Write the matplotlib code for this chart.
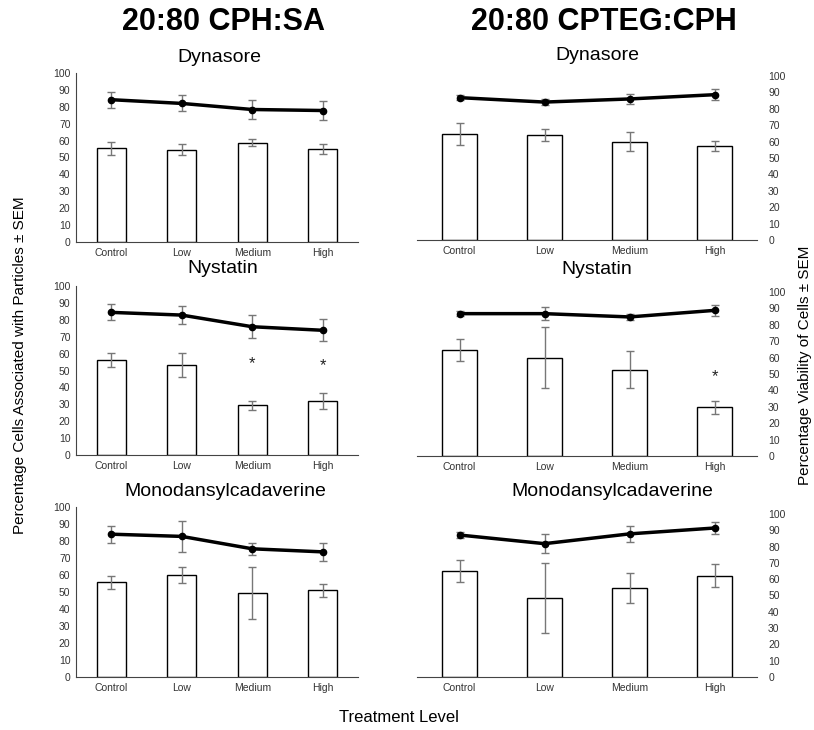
import numpy as np
import matplotlib
matplotlib.use("Agg")
import matplotlib.pyplot as plt

plt.rcParams["font.family"] = ["Liberation Sans", "DejaVu Sans"]

levels = ["Control", "Low", "Medium", "High"]
treatments = ["Dynasore", "Nystatin", "Monodansylcadaverine"]

# 20:80 CPH:SA  (bars = association, line = viability)
sa_bar = [[55.4, 54.7, 58.8, 55.0],
          [56.0, 53.3, 29.4, 32.0],
          [55.7, 59.8, 49.6, 51.0]]
sa_bar_err = [[3.9, 3.5, 2.2, 3.2],
              [4.1, 6.9, 2.7, 4.5],
              [3.9, 4.8, 15.2, 3.8]]
sa_line = [[84.2, 82.0, 78.4, 77.8],
           [84.4, 82.8, 75.9, 73.8],
           [84.0, 82.7, 75.4, 73.6]]
sa_line_err = [[4.7, 4.7, 5.5, 5.4],
               [4.7, 5.1, 6.8, 6.4],
               [5.0, 9.3, 3.7, 5.2]]
sa_stars = [[], [(2, 54), (3, 53)], []]

# 20:80 CPTEG:CPH
teg_bar = [[64.6, 64.0, 59.8, 57.3],
           [64.9, 60.0, 52.7, 29.8],
           [65.1, 48.6, 54.5, 62.2]]
teg_bar_err = [[6.9, 3.7, 5.8, 3.0],
               [6.7, 18.5, 11.5, 3.9],
               [6.7, 21.4, 9.2, 7.2]]
teg_line = [[86.8, 84.1, 86.0, 88.6],
            [86.8, 86.8, 84.8, 88.8],
            [87.1, 81.8, 87.8, 91.4]]
teg_line_err = [[1.6, 2.0, 2.8, 3.3],
                [1.6, 4.0, 2.0, 3.4],
                [1.6, 5.7, 4.9, 3.5]]
teg_stars = [[], [(3, 48.7)], []]

fig = plt.figure(figsize=(8.14, 7.3), dpi=100)

left_pos = [(0.0934, 0.6685, 0.3464, 0.2315),
            (0.0934, 0.3767, 0.3464, 0.2315),
            (0.0934, 0.0726, 0.3464, 0.2329)]
right_pos = [(0.5123, 0.6712, 0.4177, 0.2247),
             (0.5123, 0.3753, 0.4177, 0.2247),
             (0.5123, 0.0726, 0.4177, 0.2233)]
# subtitle centres in pixels (x, y from top)
left_sub = [(219, 57), (223, 268), (225, 491)]
right_sub = [(597, 55), (597, 270), (612, 492)]


def draw_panel(pos, bars, bars_err, line, line_err, stars, side):
    ax = fig.add_axes(pos)
    x = np.arange(len(levels))
    ax.bar(x, bars, width=0.41, color="white", edgecolor="black", linewidth=1.0, zorder=2)
    ax.errorbar(x, bars, yerr=bars_err, fmt="none", ecolor="#777777",
                elinewidth=1.0, capsize=3, capthick=1.0, zorder=3)
    ax.errorbar(x, line, yerr=line_err, fmt="none", ecolor="#777777",
                elinewidth=1.0, capsize=3, capthick=1.0, zorder=3)
    ax.plot(x, line, color="black", linewidth=2.5, marker="o", markersize=4.5, zorder=4)
    for (i, yv) in stars:
        ax.text(i, yv, "*", ha="center", va="center", fontsize=12, color="#222222")
    ax.set_xlim(-0.5, 3.5)
    ax.set_ylim(0, 100)
    ax.set_yticks(range(0, 101, 10))
    ax.set_xticks(x)
    ax.set_xticklabels(levels)
    ax.tick_params(axis="both", length=0, labelsize=7.5, colors="#333333", pad=4)
    for s in ["top", "right"]:
        ax.spines[s].set_visible(False)
    ax.spines["bottom"].set_color("#444444")
    ax.spines["left"].set_color("#444444")
    if side == "right":
        ax.spines["left"].set_visible(False)
        ax.yaxis.tick_right()
        ax.tick_params(axis="y", pad=8)
    return ax


for k in range(3):
    draw_panel(left_pos[k], sa_bar[k], sa_bar_err[k], sa_line[k], sa_line_err[k],
               sa_stars[k], "left")
    draw_panel(right_pos[k], teg_bar[k], teg_bar_err[k], teg_line[k], teg_line_err[k],
               teg_stars[k], "right")
    fig.text(left_sub[k][0] / 814, 1 - left_sub[k][1] / 730, treatments[k],
             ha="center", va="center", fontsize=14)
    fig.text(right_sub[k][0] / 814, 1 - right_sub[k][1] / 730, treatments[k],
             ha="center", va="center", fontsize=14)

fig.text(223 / 814, 1 - 22 / 730, "20:80 CPH:SA", ha="center", va="center",
         fontsize=22, fontweight="bold")
fig.text(604 / 814, 1 - 22 / 730, "20:80 CPTEG:CPH", ha="center", va="center",
         fontsize=22, fontweight="bold")
fig.text(20 / 814, 1 - 365 / 730, "Percentage Cells Associated with Particles \u00b1 SEM",
         rotation=90, ha="center", va="center", fontsize=11)
fig.text(805 / 814, 1 - 365 / 730, "Percentage Viability of Cells \u00b1 SEM",
         rotation=90, ha="center", va="center", fontsize=11)
fig.text(399 / 814, 1 - 718 / 730, "Treatment Level", ha="center", va="center", fontsize=12)

plt.savefig("out.png", dpi=100)
